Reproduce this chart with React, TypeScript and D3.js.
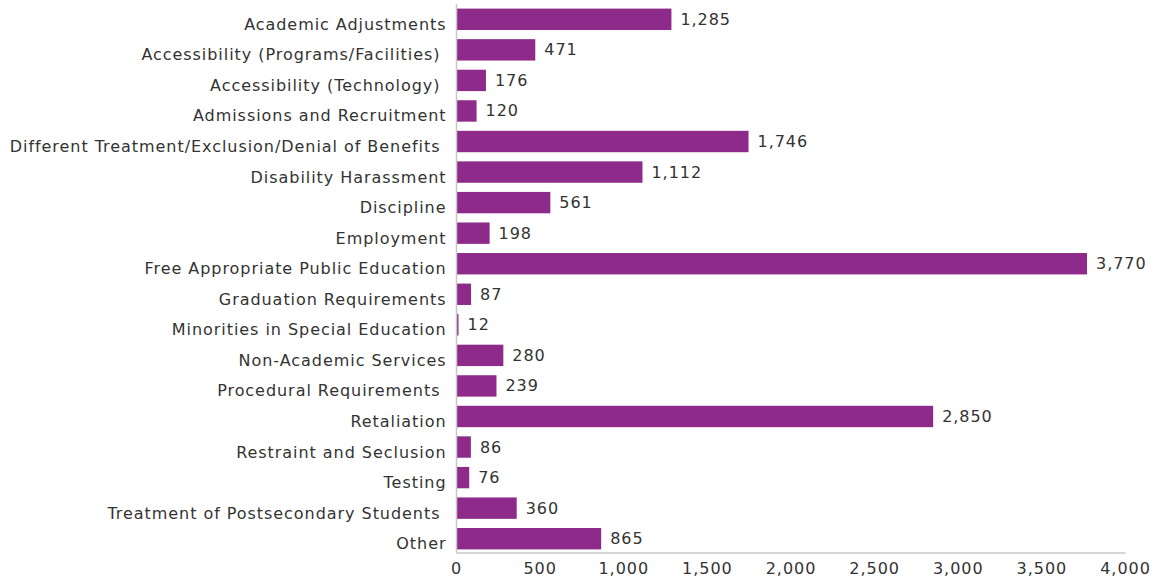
import { useEffect, useRef } from 'react';
import * as d3 from 'd3';

// categories (trailing spaces kept as in the source labels)
const categories = [
  'Academic Adjustments',
  'Accessibility (Programs/Facilities) ',
  'Accessibility (Technology) ',
  'Admissions and Recruitment',
  'Different Treatment/Exclusion/Denial of Benefits ',
  'Disability Harassment',
  'Discipline',
  'Employment',
  'Free Appropriate Public Education',
  'Graduation Requirements',
  'Minorities in Special Education',
  'Non-Academic Services',
  'Procedural Requirements ',
  'Retaliation',
  'Restraint and Seclusion',
  'Testing',
  'Treatment of Postsecondary Students ',
  'Other',
];

const counts = [1285, 471, 176, 120, 1746, 1112, 561, 198, 3770, 87, 12, 280, 239, 2850, 86, 76, 360, 865];

const xTicks = [0, 500, 1000, 1500, 2000, 2500, 3000, 3500, 4000];

const BAR_COLOR = '#8e2a8a';
const TEXT_COLOR = '#333333';
const AXIS_COLOR = '#c8c8c8';

export default function App() {
  const svgRef = useRef<SVGSVGElement>(null);

  useEffect(() => {
    const width = 1154;
    const height = 577;
    const left = 456.5;
    const right = 1125.5;
    const bottom = 553;

    const svg = d3.select(svgRef.current);
    svg.selectAll('*').remove();
    svg.attr('width', width).attr('height', height)
      .style('font-family', '"DejaVu Sans", Verdana, sans-serif')
      .style('font-size', '16px')
      .style('letter-spacing', '0.95px');

    const x = d3.scaleLinear().domain([0, 4000]).range([left, right]);
    const y = d3.scaleBand<string>()
      .domain(categories)
      .range([2.5, 555.5])
      .paddingInner(0.3)
      .paddingOuter(0.2);

    const rows = categories.map((c, i) => ({ label: c, value: counts[i] }));

    // bars
    svg.append('g')
      .selectAll('rect')
      .data(rows)
      .join('rect')
      .attr('x', x(0))
      .attr('y', d => y(d.label)!)
      .attr('width', d => x(d.value) - x(0))
      .attr('height', y.bandwidth())
      .attr('fill', BAR_COLOR);

    // value labels
    svg.append('g')
      .selectAll('text')
      .data(rows)
      .join('text')
      .attr('x', d => x(d.value) + 9)
      .attr('y', d => y(d.label)! + y.bandwidth() / 2 + 5.5)
      .attr('fill', TEXT_COLOR)
      .text(d => d3.format(',')(d.value));

    // category labels
    svg.append('g')
      .selectAll('text')
      .data(rows)
      .join('text')
      .attr('x', left - 10)
      .attr('y', d => y(d.label)! + y.bandwidth() / 2 + 10.5)
      .attr('text-anchor', 'end')
      .attr('fill', TEXT_COLOR)
      .style('white-space', 'pre')
      .text(d => d.label);

    // axis lines
    svg.append('line')
      .attr('x1', left).attr('x2', left)
      .attr('y1', 4).attr('y2', bottom)
      .attr('stroke', AXIS_COLOR).attr('stroke-width', 1.5);
    svg.append('line')
      .attr('x1', left).attr('x2', right)
      .attr('y1', bottom).attr('y2', bottom)
      .attr('stroke', AXIS_COLOR).attr('stroke-width', 1.5);

    // x tick labels
    svg.append('g')
      .selectAll('text')
      .data(xTicks)
      .join('text')
      .attr('x', d => x(d))
      .attr('y', bottom + 21)
      .attr('text-anchor', 'middle')
      .attr('fill', TEXT_COLOR)
      .text(d => d3.format(',')(d));
  }, []);

  return (
    <svg ref={svgRef} style={{ position: 'absolute', left: 0, top: 0 }}></svg>
  );
}
